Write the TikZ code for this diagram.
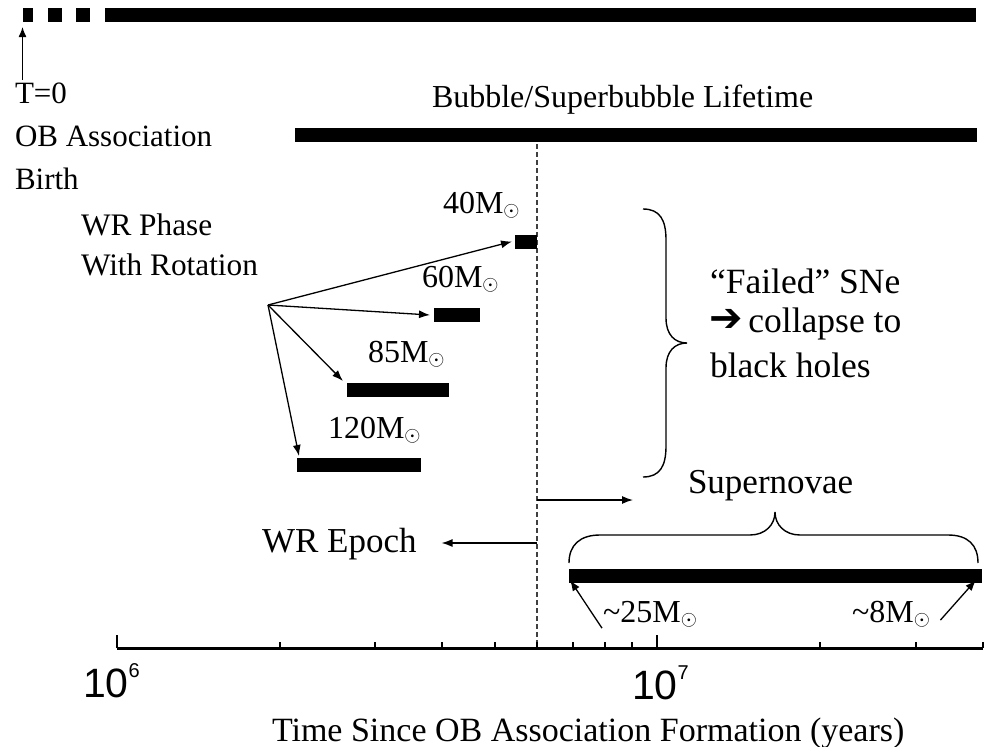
\documentclass[tikz,border=0pt]{standalone}
\usepackage{fontspec}
\setmainfont{Liberation Serif}
\setsansfont{Liberation Sans}
\newfontfamily\dejavu{DejaVu Sans}
\usetikzlibrary{arrows.meta}
\newcommand\msun{M$_{\odot}$}
\newcommand\fs[1]{\fontsize{#1}{#1}\selectfont}
\newcommand\powten[1]{10\raisebox{20pt}{\fs{20}#1}}
\begin{document}
\begin{tikzpicture}[x=1pt,y=-1pt,
  bar/.style={fill=black, draw=none, inner sep=0, outer sep=0, minimum height=14pt, anchor=west},
  txt/.style={inner sep=0, outer sep=0, anchor=base west},
  arr/.style={line width=1.3pt, -{Latex[length=11pt,width=8pt]}},
  brace/.style={line width=1.4pt},
  dashline/.style={line width=1.4pt, draw=black!75, dash pattern=on 5pt off 3pt},
  axis/.style={line width=3pt},
  tick/.style={line width=2.5pt}]
\useasboundingbox (0,0) rectangle (988,747);

% top timeline
\node[bar, minimum width=10pt] (d1) at (22.5,15) {};
\node[bar, minimum width=14pt] (d2) at (48,15) {};
\node[bar, minimum width=14pt] (d3) at (76,15) {};
\node[bar, minimum width=871pt] (topbar) at (105,15) {};

% T=0 labels
\node[txt, font=\fs{31}] (t0) at (15,103) {T=0};
\node[txt, font=\fs{31}] (oba) at (15,146) {OB Association};
\node[txt, font=\fs{31}] (birth) at (15,189) {Birth};
\coordinate (tarr) at (22.5,80);
\draw[line width=1.3pt, -{Latex[length=10pt,width=8pt]}] (tarr) -- ([yshift=-5pt]d1.south west);

% bubble lifetime
\node[txt, font=\fs{32}] (bubble) at (432,107) {Bubble/Superbubble Lifetime};
\node[bar, minimum width=682pt] (bubbar) at (295,135) {};

% dashed divider
\coordinate (dtop) at (537,144);
\coordinate (dbot) at (537,648);
\draw[dashline] (dtop) -- (dbot);

% WR phase
\node[txt, font=\fs{31.3}] (wrp1) at (81,235) {WR Phase};
\node[txt, font=\fs{31.3}] (wrp2) at (81,275) {With Rotation};
\coordinate (wr) at (268,305);

\node[bar, minimum width=22pt] (b40) at (515,241.5) {};
\node[bar, minimum width=46pt] (b60) at (434,315) {};
\node[bar, minimum width=102pt] (b85) at (347,390) {};
\node[bar, minimum width=124pt] (b120) at (297,465) {};

\node[txt, font=\fs{32}] (m40) at (443,213) {40\msun};
\node[txt, font=\fs{32}] (m60) at (422,287) {60\msun};
\node[txt, font=\fs{32}] (m85) at (368,362) {85\msun};
\node[txt, font=\fs{32}] (m120) at (328,438) {120\msun};

\draw[arr] (wr) -- ([xshift=-3pt]b40.west);
\draw[arr] (wr) -- ([xshift=-4pt]b60.west);
\draw[arr] (wr) -- ([xshift=-4pt,yshift=2pt]b85.north west);
\draw[arr] (wr) -- ([xshift=2pt,yshift=2pt]b120.north west);

% failed SNe brace
\draw[brace] (643,209) .. controls (660,209) and (666,220) .. (666,240) -- (666,318)
  .. controls (666,335) and (675,343) .. (687,343)
  .. controls (675,343) and (666,351) .. (666,368) -- (666,446)
  .. controls (666,466) and (660,477) .. (643,477);
\node[txt, font=\fs{35.5}] (failed) at (710,293) {“Failed” SNe};
\node[txt, font=\fs{35.5}] (collapse) at (709,332) {{\dejavu\bfseries\fs{40}\raisebox{1pt}{➔}}\,collapse to};
\node[txt, font=\fs{35.5}] (black) at (710,377) {black holes};

% supernovae
\node[txt, font=\fs{35}] (superno) at (688,493) {Supernovae};
\coordinate (snarr) at (633,500);
\draw[arr] (537,500) coordinate (dsn) -- (snarr);

\node[txt, font=\fs{35}] (wrepoch) at (262,552) {WR Epoch};
\draw[arr] (537,543) coordinate (dwr) -- ([xshift=25pt]wrepoch.east |- dwr);

\draw[brace] (569,563) .. controls (569,545) and (580,535) .. (600,535) -- (750,535)
  .. controls (765,535) and (775,525) .. (775,512)
  .. controls (775,525) and (785,535) .. (800,535) -- (948,535)
  .. controls (968,535) and (978,545) .. (978,563);
\node[bar, minimum width=413pt] (snbar) at (569,576) {};

\node[txt, font=\fs{32}] (m25) at (603,622) {\textasciitilde25\msun};
\node[txt, font=\fs{32}] (m8) at (852,622) {\textasciitilde8\msun};
\draw[arr] ([xshift=-1pt,yshift=-14pt]m25.west) -- ([xshift=1pt,yshift=3pt]snbar.south west);
\draw[arr] ([xshift=10pt,yshift=-6pt]m8.east) -- ([xshift=-6pt,yshift=3pt]snbar.south east);

% axis
\draw[axis] (117,648) -- (983,648);
\foreach \x in {117,657} \draw[tick] (\x,648) -- (\x,635);
\foreach \x in {280,375,442,495,537,573,605,632,820,916,983} \draw[tick] (\x,648) -- (\x,642);
\node[txt, font=\sffamily\fs{41}] (e6) at (83,697) {\powten{6}};
\node[txt, font=\sffamily\fs{41}] (e7) at (632,699) {\powten{7}};
\node[txt, font=\fs{34}] (xlabel) at (272,741) {Time Since OB Association Formation (years)};
\end{tikzpicture}
\end{document}
